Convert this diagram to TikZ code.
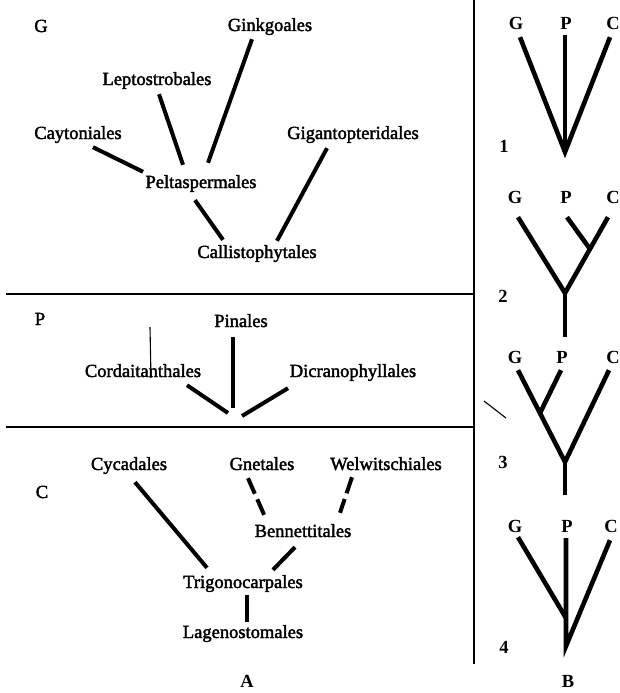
\documentclass[tikz,border=0pt]{standalone}
\usepackage{fontspec}
\setmainfont{Liberation Serif}
\newfontfamily\taxfont[FakeBold=2]{Liberation Serif}
\usepackage{tikz}
\usetikzlibrary{positioning,calc}

\begin{document}
\begin{tikzpicture}[x=1pt,y=-1pt,
  taxon/.style={anchor=base,inner sep=0pt,text height=13pt,text depth=4.5pt,
                font=\taxfont\fontsize{18.5}{22}\selectfont},
  treelab/.style={anchor=base,inner sep=0pt,text height=13pt,text depth=4.5pt,
                  font=\bfseries\fontsize{18.5}{22}\selectfont},
  branch/.style={line width=4pt},
  gapped/.style={line width=4pt,dash pattern=on 17pt off 6pt},
  stem/.style={line width=4.6pt,line join=miter},
  rule/.style={line width=1.8pt},
  scratch/.style={line width=1.1pt}
]
\useasboundingbox (0,0) rectangle (620,693);
% Dividers
\draw[rule] (474,0) -- (474,664);
\draw[rule] (6,294) -- (474,294);
\draw[rule] (6,427) -- (474,427);
\draw[scratch] (484,401) -- (506,418);
% --- A: group G
\node[taxon] (gA) at (41,32) {G};
\node[taxon] (ginkgo) at (270,31) {Ginkgoales};
\node[taxon] (lepto) at (157,85) {Leptostrobales};
\node[taxon] (cayt) at (78,139) {Caytoniales};
\node[taxon] (giganto) at (353,139) {Gigantopteridales};
\node[taxon] (pelta) at (201,188) {Peltaspermales};
\node[taxon] (callisto) at (257,258) {Callistophytales};
\draw[branch] ([shift={(15,3.5)}]cayt.south) -- ([shift={(-58,-3)}]pelta.north);
\draw[branch] ([shift={(2,4.5)}]lepto.south) -- ([shift={(-18,-10)}]pelta.north);
\draw[branch] ([shift={(-18,3.5)}]ginkgo.south) -- ([shift={(7,-12)}]pelta.north);
\draw[branch] ([shift={(-6,7.5)}]pelta.south) -- ([shift={(-34,-5)}]callisto.north);
\draw[branch] ([shift={(-26,4.5)}]giganto.south) -- ([shift={(20,-4)}]callisto.north);
% --- A: group P
\node[taxon] (gP) at (40,325) {P};
\node[taxon] (pinal) at (241,327) {Pinales};
\node[taxon] (cord) at (143,377) {Cordaitanthales};
\node[taxon] (dicr) at (353,377) {Dicranophyllales};
\coordinate (pjoin) at (235,414);
\draw[branch] ([shift={(-8,5.5)}]pinal.south) -- ([shift={(-2,-6)}]pjoin);
\draw[branch] ([shift={(44,3.5)}]cord.south) -- ([shift={(-7,-1)}]pjoin);
\draw[branch] ([shift={(-65,6.5)}]dicr.south) -- ([shift={(7,2)}]pjoin);
\draw[scratch] ([shift={(7,-50)}]cord.base) -- ([shift={(8,1)}]cord.base);
% --- A: group C
\node[taxon] (gC) at (42,498) {C};
\node[taxon] (cyca) at (129,470) {Cycadales};
\node[taxon] (gnet) at (262,470) {Gnetales};
\node[taxon] (welw) at (386,470) {Welwitschiales};
\node[taxon] (benn) at (303,537) {Bennettitales};
\node[taxon] (trig) at (243,588) {Trigonocarpales};
\node[taxon] (lage) at (243,638) {Lagenostomales};
\draw[branch] ([shift={(6,7.5)}]cyca.south) -- ([shift={(-36,-7)}]trig.north);
\draw[gapped] ([shift={(-14,3.5)}]gnet.south) -- ([shift={(-38,-7)}]benn.north);
\draw[gapped] ([shift={(-34,2.5)}]welw.south) -- ([shift={(37,-11)}]benn.north);
\draw[branch] ([shift={(-8,5.5)}]benn.south) -- ([shift={(30,-5)}]trig.north);
\draw[branch] ([shift={(4,2.5)}]trig.south) -- ([shift={(4,-3)}]lage.north);
\node[treelab] (capA) at (247,687) {A};
% --- B: tree 1
\node[treelab] (g1) at (516,30) {G};
\node[treelab] (p1) at (566,30) {P};
\node[treelab] (c1) at (613,30) {C};
\node[treelab] (n1) at (504,152) {1};
\coordinate (r1) at (565,152);
\draw[stem] ([shift={(4,2.5)}]g1.south) -- (r1) -- ([shift={(-3,2.5)}]c1.south);
\draw[stem] ([shift={(-1,0.5)}]p1.south) -- (r1);
% --- B: tree 2
\node[treelab] (g2) at (515,203) {G};
\node[treelab] (p2) at (566,203) {P};
\node[treelab] (c2) at (613,203) {C};
\node[treelab] (n2) at (503,302) {2};
\coordinate (f2) at (565,293);
\coordinate (j2) at (590,249);
\coordinate (b2) at (565,337);
\draw[stem] ([shift={(3,9.5)}]g2.south) -- (f2) -- ([shift={(-5,9.5)}]c2.south);
\draw[stem] ([shift={(1,9.5)}]p2.south) -- (j2);
\draw[stem] (f2) -- (b2);
% --- B: tree 3
\node[treelab] (g3) at (515,363) {G};
\node[treelab] (p3) at (562,363) {P};
\node[treelab] (c3) at (613,363) {C};
\node[treelab] (n3) at (503,468) {3};
\coordinate (f3) at (565,462);
\coordinate (j3) at (540,413);
\coordinate (b3) at (565,495);
\draw[stem] ([shift={(3,2.5)}]g3.south) -- (f3) -- ([shift={(-4,2.5)}]c3.south);
\draw[stem] ([shift={(-1,2.5)}]p3.south) -- (j3);
\draw[stem] (f3) -- (b3);
% --- B: tree 4
\node[treelab] (g4) at (515,532) {G};
\node[treelab] (p4) at (567,532) {P};
\node[treelab] (c4) at (611,532) {C};
\node[treelab] (n4) at (504,653) {4};
\coordinate (j4) at (566,618);
\coordinate (r4) at (566,646);
\draw[stem] ([shift={(-1,1.5)}]p4.south) -- (r4) -- ([shift={(-1,3.5)}]c4.south);
\draw[stem] ([shift={(3,0.5)}]g4.south) -- (j4);
\node[treelab] (capB) at (568,687) {B};
\end{tikzpicture}
\end{document}
